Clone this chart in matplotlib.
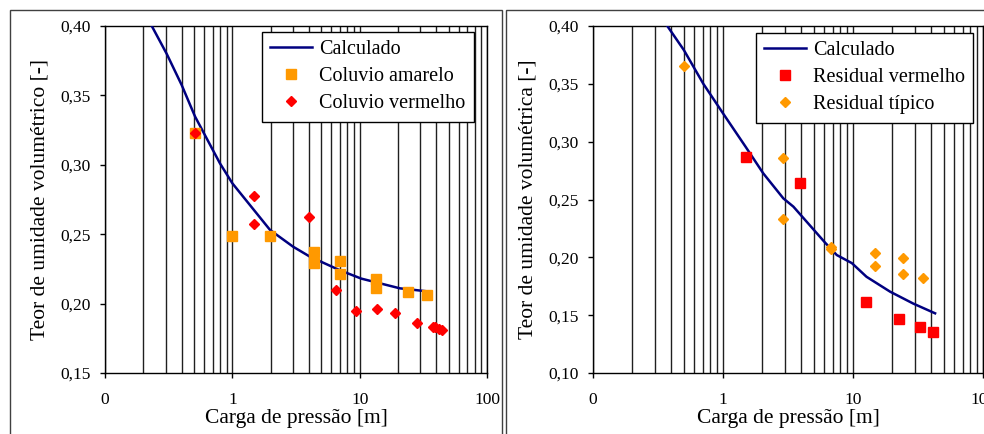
import numpy as np
import matplotlib.pyplot as plt
from matplotlib.ticker import FixedLocator, FixedFormatter, LogLocator, NullFormatter
from matplotlib.patches import Rectangle

plt.rcParams['font.family'] = ['Liberation Serif', 'DejaVu Serif']

# ---- left panel: coluvio ----
calc_l_x = [0.233, 0.305, 0.40, 0.51, 0.80, 1.0, 1.98, 3.0, 4.07, 7.0, 10.3, 20.7, 35.7]
calc_l_y = [0.400, 0.380, 0.3575, 0.3347, 0.301, 0.2867, 0.253, 0.241, 0.2338, 0.224, 0.218, 0.211, 0.2086]

amarelo_x = [0.51, 1.0, 1.98, 4.4, 4.4, 7.0, 7.0, 13.5, 13.5, 24.0, 33.6]
amarelo_y = [0.323, 0.249, 0.249, 0.237, 0.229, 0.231, 0.221, 0.218, 0.211, 0.208, 0.206]

vermelho_x = [0.51, 1.49, 1.49, 4.03, 6.5, 9.4, 13.8, 19.0, 28.1, 37.9, 39.0, 42.3, 44.2]
vermelho_y = [0.323, 0.2775, 0.257, 0.2626, 0.210, 0.195, 0.196, 0.193, 0.186, 0.183, 0.183, 0.1815, 0.181]

# ---- right panel: residual ----
calc_r_x = [0.373, 0.50, 0.706, 1.0, 1.49, 2.04, 2.91, 3.48, 6.1, 7.5, 9.8, 12.7, 19.3, 29.1, 42.8]
calc_r_y = [0.400, 0.3792, 0.350, 0.3245, 0.2957, 0.2726, 0.251, 0.2438, 0.2127, 0.202, 0.195, 0.1832, 0.1703, 0.160, 0.1516]

res_verm_x = [1.49, 3.91, 12.6, 22.4, 33.0, 41.5]
res_verm_y = [0.287, 0.264, 0.1614, 0.147, 0.1397, 0.1357]

res_tip_x = [0.50, 2.91, 2.91, 6.73, 6.73, 14.8, 14.8, 24.1, 24.1, 34.4]
res_tip_y = [0.365, 0.2856, 0.2334, 0.209, 0.2075, 0.2035, 0.1928, 0.1997, 0.1856, 0.182]

xtick_vals = [0.1, 1, 10, 100]
xtick_text = ['0', '1', '10', '100']

NAVY = '#000080'
ORANGE = '#FF9900'
RED = '#FF0000'

fig = plt.figure(figsize=(9.84, 4.34), dpi=100)

# panel frames
fig.patches.append(Rectangle((10 / 984, -0.1), 492 / 984, (424 / 434) + 0.1,
                             transform=fig.transFigure, fill=False,
                             edgecolor='#404040', linewidth=1.0))
fig.patches.append(Rectangle((506 / 984, -0.1), 0.6, (424 / 434) + 0.1,
                             transform=fig.transFigure, fill=False,
                             edgecolor='#404040', linewidth=1.0))

ax1 = fig.add_axes([105 / 984, 61 / 434, 382 / 984, 347 / 434])
ax2 = fig.add_axes([593 / 984, 61 / 434, 390 / 984, 347 / 434])


def style(ax, ylo, ylabel, axw):
    ax.set_xscale('log')
    ax.set_xlim(0.1, 100)
    ax.set_ylim(ylo, 0.40)
    ax.xaxis.set_major_locator(FixedLocator(xtick_vals))
    ax.xaxis.set_major_formatter(FixedFormatter(xtick_text))
    ax.xaxis.set_minor_locator(LogLocator(base=10, subs=np.arange(2, 10)))
    ax.xaxis.set_minor_formatter(NullFormatter())
    ax.tick_params(axis='x', which='minor', length=0)
    ax.tick_params(axis='x', which='major', direction='out', length=3.6, width=1,
                   labelsize=12.5, pad=10)
    ax.tick_params(axis='y', direction='out', length=3.6, width=1, labelsize=12.5, pad=7)
    yt = np.arange(ylo, 0.4001, 0.05)
    ax.set_yticks(yt)
    ax.set_yticklabels([f'{v:.2f}'.replace('.', ',') for v in yt])
    ax.grid(True, axis='x', which='both', color='#202020', linewidth=1.0)
    ax.set_axisbelow(True)
    for s in ax.spines.values():
        s.set_color('black')
        s.set_linewidth(1.0)
    ax.set_xlabel('Carga de pressão [m]', fontsize=15.5)
    ax.xaxis.set_label_coords(0.5, -45 / 347)
    ax.xaxis.label.set_va('center')
    ax.set_ylabel(ylabel, fontsize=15.5)
    ax.yaxis.set_label_coords(-65 / axw, 0.5)
    ax.yaxis.label.set_va('center')


style(ax1, 0.15, 'Teor de umidade volumétrico [-]', 382)
style(ax2, 0.10, 'Teor de umidade volumétrica [-]', 390)

ax1.plot(calc_l_x, calc_l_y, color=NAVY, linewidth=1.8, label='Calculado', zorder=3)
ax1.plot(amarelo_x, amarelo_y, 's', color=ORANGE, markersize=6.5, linestyle='none',
         label='Coluvio amarelo', zorder=4)
ax1.plot(vermelho_x, vermelho_y, 'D', color=RED, markersize=5.3, linestyle='none',
         label='Coluvio vermelho', zorder=5)

ax2.plot(calc_r_x, calc_r_y, color=NAVY, linewidth=1.8, label='Calculado', zorder=3)
ax2.plot(res_verm_x, res_verm_y, 's', color=RED, markersize=6.5, linestyle='none',
         label='Residual vermelho', zorder=4)
ax2.plot(res_tip_x, res_tip_y, 'D', color=ORANGE, markersize=5.3, linestyle='none',
         label='Residual típico', zorder=5)

for ax, anchor in ((ax1, (262 / 984, 1 - 32 / 434)),
                   (ax2, (756 / 984, 1 - 33 / 434))):
    leg = ax.legend(loc='upper left', bbox_to_anchor=anchor,
                    bbox_transform=fig.transFigure, fontsize=14.5, frameon=True,
                    fancybox=False, framealpha=1, edgecolor='black',
                    borderpad=0.4, labelspacing=0.4, handlelength=2.1,
                    handletextpad=0.35, borderaxespad=0)
    leg.get_frame().set_linewidth(1.0)

fig.savefig('out.png', dpi=100)
